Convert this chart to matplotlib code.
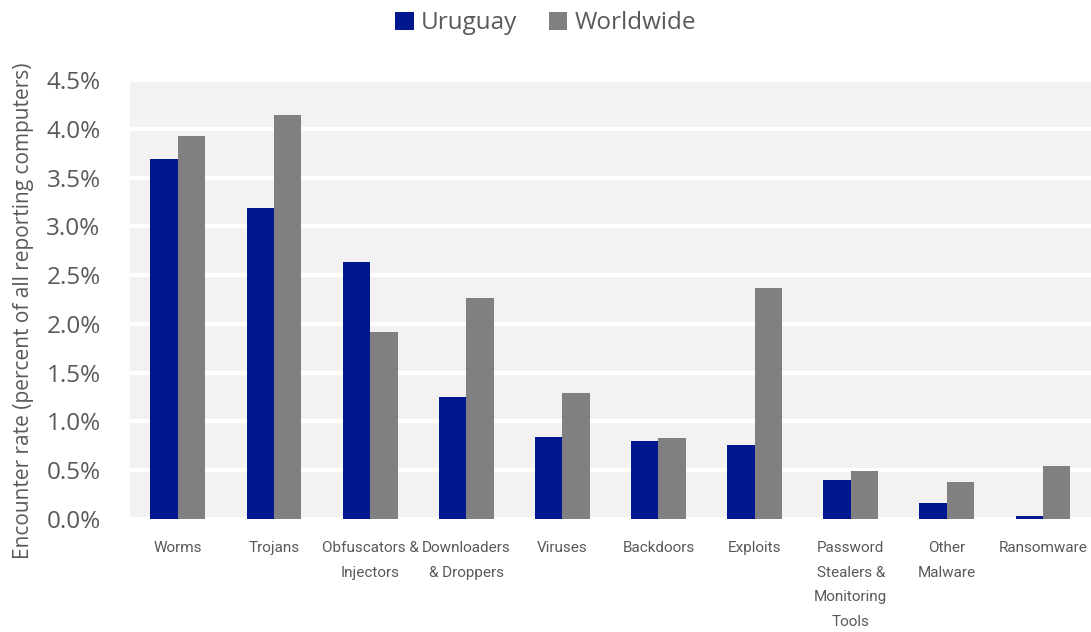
import numpy as np
import matplotlib.pyplot as plt

categories = ["Worms", "Trojans", "Obfuscators &\nInjectors", "Downloaders\n& Droppers",
              "Viruses", "Backdoors", "Exploits", "Password\nStealers &\nMonitoring\nTools",
              "Other\nMalware", "Ransomware"]
uruguay = [3.69, 3.19, 2.63, 1.25, 0.84, 0.80, 0.76, 0.40, 0.16, 0.03]
worldwide = [3.93, 4.14, 1.92, 2.27, 1.29, 0.83, 2.37, 0.49, 0.38, 0.54]
yticks = np.arange(0, 4.51, 0.5)

plt.rcParams['font.family'] = ['Open Sans', 'DejaVu Sans']
text_color = "#595959"

fig = plt.figure(figsize=(10.91, 6.32), dpi=100)
ax = fig.add_axes([0.119, 0.1788, 0.881, 0.6946])

x = np.arange(len(categories))
w = 0.285
ax.bar(x - w / 2, uruguay, w, color="#00188F", label="Uruguay", zorder=3)
ax.bar(x + w / 2, worldwide, w, color="#808080", label="Worldwide", zorder=3)

ax.set_facecolor("#f2f2f2")
ax.set_xlim(-0.5, len(categories) - 0.5)
ax.set_ylim(0, 4.5)
ax.set_yticks(yticks)
ax.set_yticklabels([f"{v:.1f}%" for v in yticks], fontsize=17.5, color=text_color)
ax.yaxis.grid(True, color="white", linewidth=3, zorder=1)
ax.set_axisbelow(True)
ax.set_xticks(x)
ax.set_xticklabels(categories, fontsize=11, color=text_color, family=['Roboto', 'DejaVu Sans'],
                   linespacing=1.95, va="top")
ax.tick_params(axis="both", length=0)
ax.tick_params(axis="y", pad=21)
ax.tick_params(axis="x", pad=16)
for s in ax.spines.values():
    s.set_visible(False)

ax.set_ylabel("Encounter rate (percent of all reporting computers)", fontsize=15,
              color=text_color)
ax.yaxis.set_label_coords(-0.1, 0.475)

leg = fig.legend(loc="upper center", bbox_to_anchor=(0.5, 1.017), ncol=2, frameon=False,
                 fontsize=17.5, handlelength=0.75, handleheight=0.75, handletextpad=0.3,
                 columnspacing=1.3)
for t in leg.get_texts():
    t.set_color(text_color)

fig.savefig("out.png", dpi=100)
